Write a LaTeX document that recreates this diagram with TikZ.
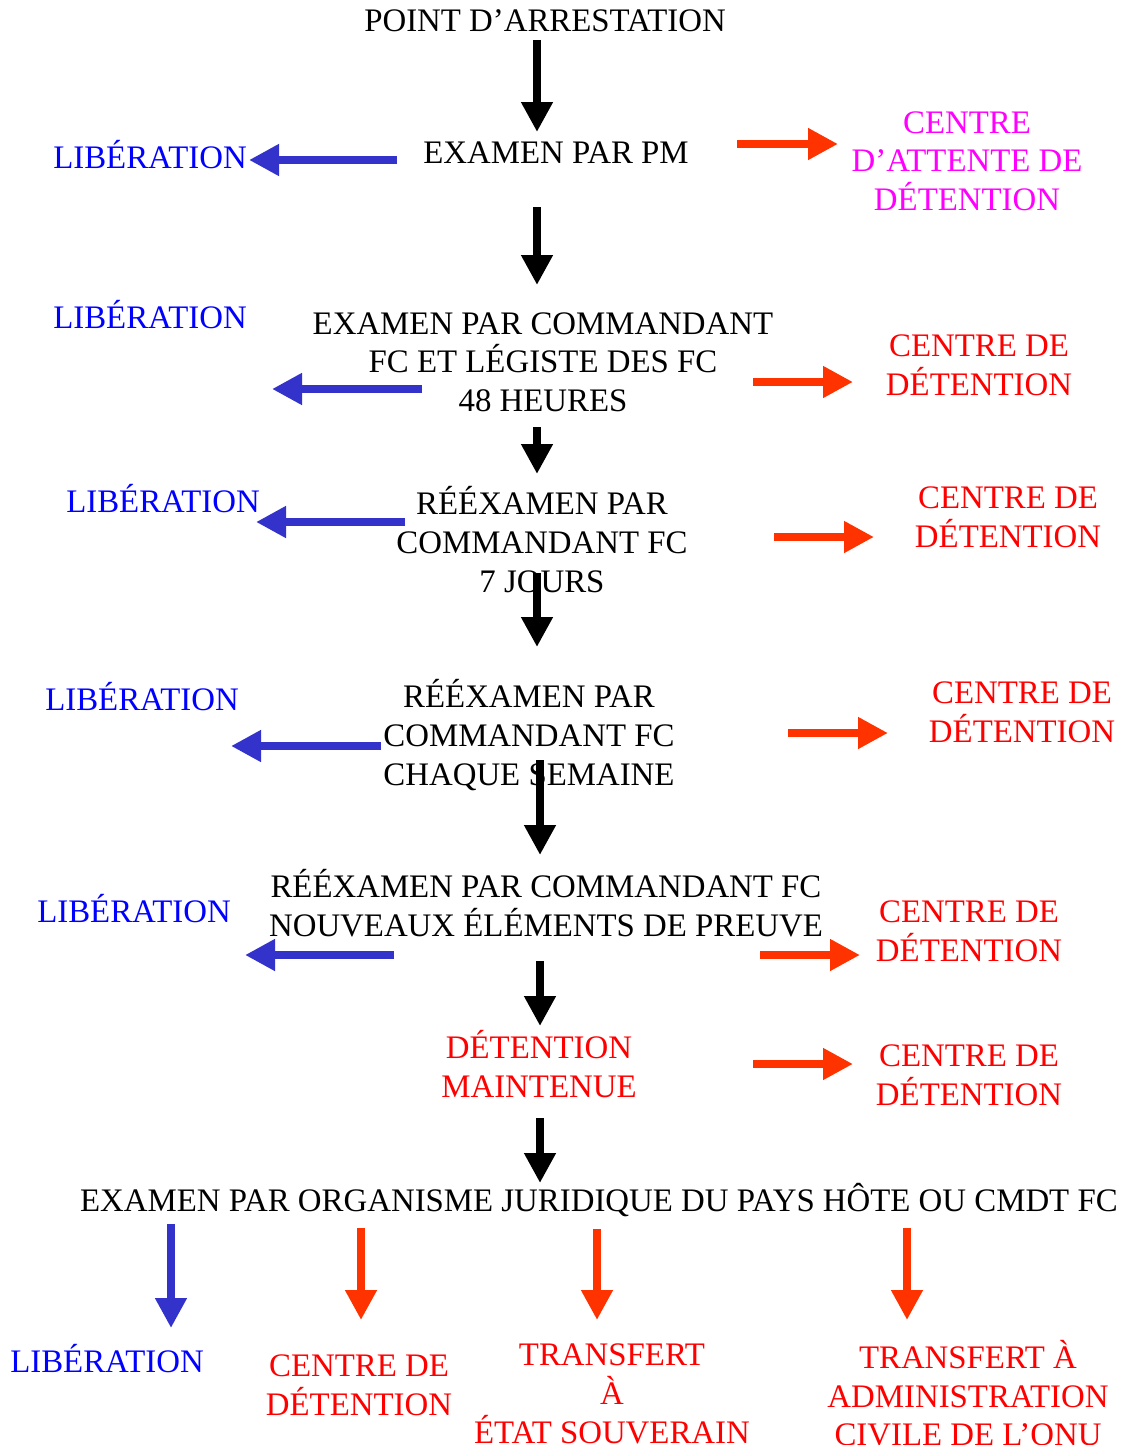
\documentclass[tikz,border=0pt]{standalone}
\usepackage{fontspec}
\setmainfont{Liberation Serif}
\usetikzlibrary{arrows.meta}

\definecolor{arrowblue}{RGB}{51,51,204}
\definecolor{arrowred}{RGB}{255,51,0}
\definecolor{textblue}{RGB}{0,0,255}
\definecolor{textred}{RGB}{255,0,0}
\definecolor{textmagenta}{RGB}{255,0,255}

% uniform line boxes so that a node's centre sits near the middle of its capitals
\newcommand\topstrut{\rule{0pt}{30pt}}
\newcommand\botstrut{\rule[-9pt]{0pt}{9pt}}

\tikzset{
  lbl/.style={inner sep=0pt, align=center,
    font=\fontsize{32.85}{38.8}\selectfont,
    execute at begin node=\topstrut, execute at end node=\botstrut},
  stage/.style={lbl, text=black},
  release/.style={lbl, text=textblue},
  detain/.style={lbl, text=textred},
  holding/.style={lbl, text=textmagenta},
  fat/.style={line width=7.5pt, -{Triangle[length=30pt,width=30pt]}},
  flowarrow/.style={fat, draw=black, fill=black},
  relarrow/.style={fat, line width=8pt, draw=arrowblue, fill=arrowblue},
  detarrow/.style={fat, line width=8pt, draw=arrowred, fill=arrowred},
}

\begin{document}
\begin{tikzpicture}[x=1pt, y=-1pt]
\useasboundingbox (0,0) rectangle (1121,1445);

% ---- labels ----
\node[stage]   (start) at (545,21.5)   {POINT D’ARRESTATION};
\node[stage]   (pm)    at (556,153)    {EXAMEN PAR PM};
\node[release] (lib1)  at (150,158)    {LIBÉRATION};
\node[holding] (cad)   at (967,165.5)  {CENTRE\\D’ATTENTE DE\\DÉTENTION};

\node[release] (lib2)  at (150,318)    {LIBÉRATION};
\node[stage]   (cmd48) at (543,366.5)  {EXAMEN PAR COMMANDANT\\FC ET LÉGISTE DES FC\\48 HEURES};
\node[detain]  (cd1)   at (979,369.5)  {CENTRE DE\\DÉTENTION};

\node[release] (lib3)  at (163,502)    {LIBÉRATION};
\node[stage]   (re7)   at (542,544)    {RÉÉXAMEN PAR\\COMMANDANT FC\\7 JOURS};
\node[detain]  (cd2)   at (1008,521.5) {CENTRE DE\\DÉTENTION};

\node[release] (lib4)  at (142,700)    {LIBÉRATION};
\node[stage]   (resem) at (529,737)    {RÉÉXAMEN PAR\\COMMANDANT FC\\CHAQUE SEMAINE};
\node[detain]  (cd3)   at (1022,716.5) {CENTRE DE\\DÉTENTION};

\node[release] (lib5)  at (134,912)    {LIBÉRATION};
\node[stage]   (renew) at (546,907)    {RÉÉXAMEN PAR COMMANDANT FC\\NOUVEAUX ÉLÉMENTS DE PREUVE};
\node[detain]  (cd4)   at (969,935.5)  {CENTRE DE\\DÉTENTION};

\node[detain]  (maint) at (539,1068)   {DÉTENTION\\MAINTENUE};
\node[detain]  (cd5)   at (969,1080)   {CENTRE DE\\DÉTENTION};

\node[stage]   (final) at (599,1201)   {EXAMEN PAR ORGANISME JURIDIQUE DU PAYS HÔTE OU CMDT FC};

\node[release] (lib6)  at (107,1362)   {LIBÉRATION};
\node[detain]  (cd6)   at (359,1389.5) {CENTRE DE\\DÉTENTION};
\node[detain]  (state) at (612,1398)   {TRANSFERT\\À\\ÉTAT SOUVERAIN};
\node[detain]  (onu)   at (968,1397.5) {TRANSFERT À\\ADMINISTRATION\\CIVILE DE L’ONU};

% ---- arrow end points ----
\coordinate (m1s) at (537,40);   \coordinate (m1e) at (537,132);
\coordinate (m2s) at (537,207);  \coordinate (m2e) at (537,285);
\coordinate (m3s) at (537,427);  \coordinate (m3e) at (537,474);
\coordinate (m4s) at (537,573);  \coordinate (m4e) at (537,647);
\coordinate (m5s) at (540,760);  \coordinate (m5e) at (540,855);
\coordinate (m6s) at (540,961);  \coordinate (m6e) at (540,1026);
\coordinate (m7s) at (540,1118); \coordinate (m7e) at (540,1183);

\coordinate (l1s) at (397,160);  \coordinate (l1e) at (249,160);
\coordinate (l2s) at (422,389);  \coordinate (l2e) at (272,389);
\coordinate (l3s) at (405,522);  \coordinate (l3e) at (256,522);
\coordinate (l4s) at (381,746);  \coordinate (l4e) at (231,746);
\coordinate (l5s) at (394,955);  \coordinate (l5e) at (245,955);
\coordinate (l6s) at (171,1224); \coordinate (l6e) at (171,1328);

\coordinate (r1s) at (737,144);  \coordinate (r1e) at (838,144);
\coordinate (r2s) at (753,382);  \coordinate (r2e) at (853,382);
\coordinate (r3s) at (774,537);  \coordinate (r3e) at (874,537);
\coordinate (r4s) at (788,733);  \coordinate (r4e) at (888,733);
\coordinate (r5s) at (760,955);  \coordinate (r5e) at (860,955);
\coordinate (r6s) at (753,1064); \coordinate (r6e) at (853,1064);
\coordinate (r7s) at (361,1228); \coordinate (r7e) at (361,1320);
\coordinate (r8s) at (597,1229); \coordinate (r8e) at (597,1320);
\coordinate (r9s) at (907,1228); \coordinate (r9e) at (907,1320);

% ---- main flow ----
\foreach \i in {1,...,7} \draw[flowarrow] (m\i s) -- (m\i e);
% ---- release branches ----
\foreach \i in {1,...,6} \draw[relarrow] (l\i s) -- (l\i e);
% ---- detention branches ----
\foreach \i in {1,...,9} \draw[detarrow] (r\i s) -- (r\i e);
\end{tikzpicture}
\end{document}
